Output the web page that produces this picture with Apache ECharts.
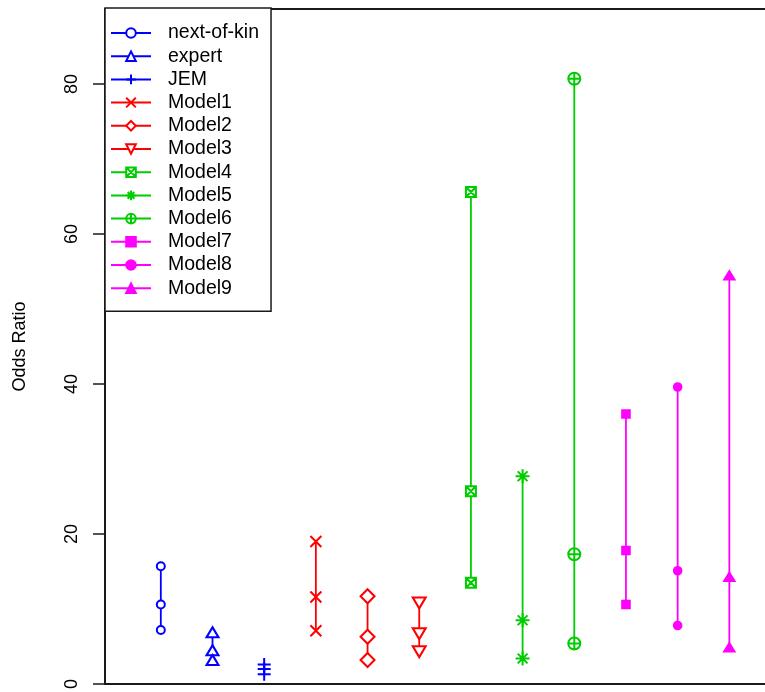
<!DOCTYPE html>
<html>
<head>
<meta charset="utf-8">
<script src="https://cdn.jsdelivr.net/npm/echarts@6/dist/echarts.min.js"></script>
<style>
html,body{margin:0;padding:0;background:#fff;}
#chart{width:765px;height:692px;}
</style>
</head>
<body>
<div id="chart"></div>
<script>
// ---- data ----
const seriesNames = ['next-of-kin','expert','JEM','Model1','Model2','Model3','Model4','Model5','Model6','Model7','Model8','Model9'];
const nextOfKin = [15.7, 10.6, 7.2];
const expert    = [6.9, 4.5, 3.2];
const jem       = [2.6, 2.0, 1.3];
const model1    = [19.0, 11.6, 7.1];
const model2    = [11.7, 6.3, 3.2];
const model3    = [10.8, 6.7, 4.3];
const model4    = [65.6, 25.7, 13.5];
const model5    = [27.7, 8.5, 3.4];
const model6    = [80.7, 17.3, 5.4];
const model7    = [36.0, 17.8, 10.6];
const model8    = [39.6, 15.1, 7.8];
const model9    = [54.5, 14.3, 4.9];
const yTicks = [0, 20, 40, 60, 80];

const allValues = [nextOfKin, expert, jem, model1, model2, model3, model4, model5, model6, model7, model8, model9];

// ---- styles ----
const BLUE = '#0000FF', RED = '#FF0000', GREEN = '#00CD00', MAG = '#FF00FF';
const FONT = 'Liberation Sans, Arial, sans-serif';
const styles = [
  {color: BLUE, symbol: 'emptyCircle', size: 8},
  {color: BLUE, symbol: 'emptyTriangle', size: [12, 10]},
  {color: BLUE, symbol: 'emptyPath://M0,5L10,5M5,0L5,10', size: 13},
  {color: RED, symbol: 'emptyPath://M0,0L10,10M10,0L0,10', size: 11},
  {color: RED, symbol: 'emptyDiamond', size: 14},
  {color: RED, symbol: 'emptyPath://M0,0L10,0L5,8.66Z', size: [13, 11]},
  {color: GREEN, symbol: 'emptyPath://M0,0L10,0L10,10L0,10ZM0,0L10,10M10,0L0,10', size: 10},
  {color: GREEN, symbol: 'emptyPath://M0,5L10,5M5,0L5,10M1.5,1.5L8.5,8.5M8.5,1.5L1.5,8.5', size: 14},
  {color: GREEN, symbol: 'emptyPath://M0,5A5,5 0 1 1 10,5A5,5 0 1 1 0,5ZM0,5L10,5M5,0L5,10', size: 12},
  {color: MAG, symbol: 'rect', size: 8},
  {color: MAG, symbol: 'circle', size: 8},
  {color: MAG, symbol: 'triangle', size: [11, 9]}
];

const series = seriesNames.map((name, i) => ({
  name: name,
  type: 'line',
  xAxisIndex: 0,
  data: allValues[i].map(v => [i + 1, v]),
  symbol: styles[i].symbol,
  symbolSize: styles[i].size,
  showAllSymbol: true,
  lineStyle: {color: styles[i].color, width: 1.8},
  itemStyle: {color: styles[i].color, borderColor: styles[i].color, borderWidth: 1.6},
  emphasis: {disabled: true},
  animation: false,
  z: 3
}));

const X_MIN = -0.08, X_MAX = 12.69;
const lineStyleAxis = {color: '#1a1a1a', width: 2};

const chart = echarts.init(document.getElementById('chart'), null, {renderer: 'canvas'});
chart.setOption({
  animation: false,
  backgroundColor: '#fff',
  textStyle: {fontFamily: FONT},
  grid: {left: 105, top: 9, right: 0, bottom: 5, show: false},
  xAxis: [
    {
      type: 'value', min: X_MIN, max: X_MAX, position: 'bottom',
      axisLine: {show: true, onZero: false, lineStyle: lineStyleAxis},
      axisTick: {show: false}, axisLabel: {show: false}, splitLine: {show: false}
    },
    {
      type: 'value', min: X_MIN, max: X_MAX, position: 'top',
      axisLine: {show: true, onZero: false, lineStyle: lineStyleAxis},
      axisTick: {show: false}, axisLabel: {show: false}, splitLine: {show: false}
    }
  ],
  yAxis: {
    type: 'value', min: 0, max: 90,
    name: 'Odds Ratio', nameLocation: 'middle', nameRotate: 90, nameGap: 76,
    nameTextStyle: {fontSize: 18, color: '#000', fontFamily: FONT},
    axisLine: {show: true, onZero: false, lineStyle: lineStyleAxis},
    axisTick: {show: true, length: 12, lineStyle: {color: '#1a1a1a', width: 1.5}, customValues: yTicks},
    axisLabel: {show: true, rotate: 90, align: 'center', verticalAlign: 'bottom', margin: 24, fontSize: 18, color: '#000', customValues: yTicks, fontFamily: FONT},
    splitLine: {show: false}
  },
  legend: {
    data: seriesNames,
    orient: 'vertical',
    left: 105, top: 8,
    padding: [15, 12, 13, 5],
    itemWidth: 40, itemHeight: 12, itemGap: 3.2,
    backgroundColor: '#fff', borderColor: '#1a1a1a', borderWidth: 1.5,
    textStyle: {fontSize: 19.5, color: '#000', lineHeight: 20, padding: [0, 0, 0, 12], fontFamily: FONT},
    selectedMode: false
  },
  series: series
});
</script>
</body>
</html>
